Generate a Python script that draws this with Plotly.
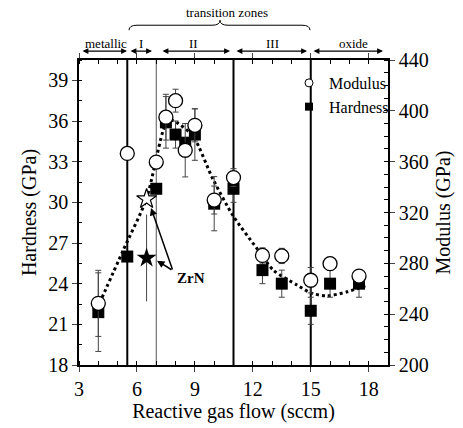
import plotly.graph_objects as go

# ---------------- data ----------------
flow = [4, 5.5, 7, 7.5, 8, 8.5, 9, 10, 11, 12.5, 13.5, 15, 16, 17.5]
hardness = [21.9, 26.0, 31.0, 35.9, 35.0, 34.4, 35.0, 29.9, 31.0, 25.0, 24.0, 22.0, 24.0, 24.0]
hardness_err = [2.9, 0, 0, 1.9, 1.0, 0, 1.9, 2.0, 1.0, 1.0, 1.0, 1.0, 1.0, 1.0]
modulus = [248.5, 366.5, 359.7, 395, 408, 369, 388.6, 329.8, 347.5, 286.2, 285.8, 266.7, 279.7, 270]
modulus_err = [26, 0, 0, 18, 9, 21, 13, 11, 7, 6, 6, 10, 5, 5]

zrn_flow = [6.5]
zrn_hardness = [25.9]
zrn_hardness_err = [3.2]
zrn_modulus = [330.6]

fit_flow = [4.06, 5.3, 6.49, 7.44, 7.75, 8.05, 8.9, 9.94, 10.98, 12.21, 13.06, 14.29, 15.03, 15.85, 16.89, 17.93]
fit_hardness = [22.55, 26.5, 30.25, 35.6, 36.05, 35.9, 34.9, 31.7, 29.0, 26.6, 25.0, 23.9, 23.3, 23.1, 23.4, 23.9]

zone_bounds = [5.5, 7, 11, 15]
zone_labels = ["metallic", "I", "II", "III", "oxide"]

# ---------------- layout geometry ----------------
W, H = 463, 428
L, R, T, B = 79, 388, 60, 367
FONT = "Liberation Serif"

def px(x):
    return (x - L) / (R - L)

def py(y):
    return (B - y) / (B - T)

fig = go.Figure()

# fit curve
fig.add_trace(go.Scatter(x=fit_flow, y=fit_hardness, mode="lines",
                         line=dict(color="black", width=3, dash="dot", shape="spline", smoothing=0.7),
                         showlegend=False, hoverinfo="skip"))

# hardness squares
fig.add_trace(go.Scatter(x=flow, y=hardness, mode="markers", name="Hardness",
                         marker=dict(symbol="square", size=12, color="black"),
                         error_y=dict(type="data", array=hardness_err, color="#444", thickness=1, width=3),
                         showlegend=False))

# ZrN hardness (filled star)
fig.add_trace(go.Scatter(x=zrn_flow, y=zrn_hardness, mode="markers",
                         marker=dict(symbol="star", size=15, color="black"),
                         error_y=dict(type="data", array=zrn_hardness_err, color="#444", thickness=1, width=0),
                         showlegend=False))

# modulus circles (on right axis)
fig.add_trace(go.Scatter(x=flow, y=modulus, mode="markers", name="Modulus", yaxis="y2",
                         marker=dict(symbol="circle", size=14, color="white", line=dict(color="black", width=1.3)),
                         error_y=dict(type="data", array=modulus_err, color="#444", thickness=1, width=3),
                         showlegend=False))

# ZrN modulus (open star)
fig.add_trace(go.Scatter(x=zrn_flow, y=zrn_modulus, mode="markers", yaxis="y2",
                         marker=dict(symbol="star", size=15, color="white", line=dict(color="black", width=1.2)),
                         showlegend=False))

# legend entries (small symbols as in the reference)
fig.add_trace(go.Scatter(x=[None], y=[None], mode="markers", name="Modulus",
                         marker=dict(symbol="circle", size=8, color="white", line=dict(color="black", width=1)),
                         legendrank=1))
fig.add_trace(go.Scatter(x=[None], y=[None], mode="markers", name="Hardness",
                         marker=dict(symbol="square", size=8, color="black"),
                         legendrank=2))

shapes = []
for b in zone_bounds:
    shapes.append(dict(type="line", xref="x", yref="paper", x0=b, x1=b, y0=0, y1=1,
                       line=dict(color="#555" if b == 7 else "black", width=1 if b == 7 else 2),
                       layer="below"))

# curly brace above transition zones
bx0, bx1, bm = 129, 310, 220
yb, yc, yp = 30, 25, 20
path = (f"M {px(bx0)} {py(yb)} Q {px(bx0)} {py(yc)} {px(bx0+8)} {py(yc)} "
        f"L {px(bm-8)} {py(yc)} Q {px(bm)} {py(yc)} {px(bm)} {py(yp)} "
        f"Q {px(bm)} {py(yc)} {px(bm+8)} {py(yc)} "
        f"L {px(bx1-8)} {py(yc)} Q {px(bx1)} {py(yc)} {px(bx1)} {py(yb)}")
shapes.append(dict(type="path", xref="paper", yref="paper", path=path,
                   line=dict(color="black", width=1)))

annotations = []
# zone double arrows (pixel spans)
spans = [(81, 127), (129, 152), (161, 230), (235, 307), (312, 383)]
label_x = [106, 141, 193, 272, 353]
for (a, b), lx, lab in zip(spans, label_x, zone_labels):
    annotations.append(dict(xref="paper", yref="paper", x=px(b), y=py(51), ax=-(b - a), ay=0,
                            axref="pixel", ayref="pixel", showarrow=True, text="",
                            arrowhead=2, startarrowhead=2, arrowside="end+start",
                            arrowsize=0.9, startarrowsize=0.9, arrowwidth=1.3, arrowcolor="black"))
    annotations.append(dict(xref="paper", yref="paper", x=px(lx), y=py(43), text=lab, showarrow=False,
                            xanchor="center", yanchor="middle",
                            font=dict(family=FONT, size=13, color="black")))
annotations.append(dict(xref="paper", yref="paper", x=px(227), y=py(12), text="transition zones",
                        showarrow=False, xanchor="center", yanchor="middle",
                        font=dict(family=FONT, size=13, color="black")))

# ZrN label with arrows
annotations.append(dict(xref="paper", yref="paper", x=px(175), y=py(279), text="<b>ZrN</b>",
                        showarrow=False, xanchor="left", yanchor="middle",
                        font=dict(family=FONT, size=15, color="black")))
annotations.append(dict(xref="paper", yref="paper", x=px(151), y=py(209), ax=22, ay=63,
                        showarrow=True, text="", arrowhead=2, arrowsize=1, arrowwidth=1.5, arrowcolor="black"))
annotations.append(dict(xref="paper", yref="paper", x=px(157), y=py(262), ax=16, ay=10,
                        showarrow=True, text="", arrowhead=2, arrowsize=1, arrowwidth=1.5, arrowcolor="black"))

axis_font = dict(family=FONT, size=20, color="black")
fig.update_layout(
    width=W, height=H,
    margin=dict(l=L, r=W - R, t=T, b=H - B, pad=0),
    paper_bgcolor="white", plot_bgcolor="white",
    font=dict(family=FONT, color="black"),
    xaxis=dict(range=[3, 19], tickvals=[3, 6, 9, 12, 15, 18], ticks="outside", ticklen=5,
               minor=dict(dtick=1, ticks="inside", ticklen=4, tickcolor="black"),
               showline=True, linecolor="black", linewidth=1.5, mirror="ticks",
               showgrid=False, zeroline=False, tickfont=axis_font,
               title=dict(text="Reactive gas flow (sccm)", font=axis_font, standoff=2)),
    yaxis=dict(range=[18, 40.5], tickvals=[18, 21, 24, 27, 30, 33, 36, 39], ticks="outside", ticklen=5,
               minor=dict(dtick=1.5, ticks="inside", ticklen=3, tickcolor="black"),
               showline=True, linecolor="black", linewidth=1.5,
               showgrid=False, zeroline=False, tickfont=axis_font,
               title=dict(text="Hardness (GPa)", font=axis_font, standoff=6)),
    yaxis2=dict(range=[200, 440], tickvals=[200, 240, 280, 320, 360, 400, 440], ticks="outside", ticklen=5,
                minor=dict(dtick=10, ticks="inside", ticklen=4, tickcolor="black"),
                overlaying="y", side="right",
                showline=True, linecolor="black", linewidth=1.5,
                showgrid=False, zeroline=False, tickfont=axis_font,
                title=dict(text="Modulus (GPa)", font=axis_font, standoff=8)),
    legend=dict(x=px(289), y=py(66), xanchor="left", yanchor="top", bgcolor="rgba(0,0,0,0)",
                font=dict(family=FONT, size=16, color="black"),
                tracegroupgap=0, itemwidth=30),
    shapes=shapes, annotations=annotations,
)

fig.write_html("out.html")
